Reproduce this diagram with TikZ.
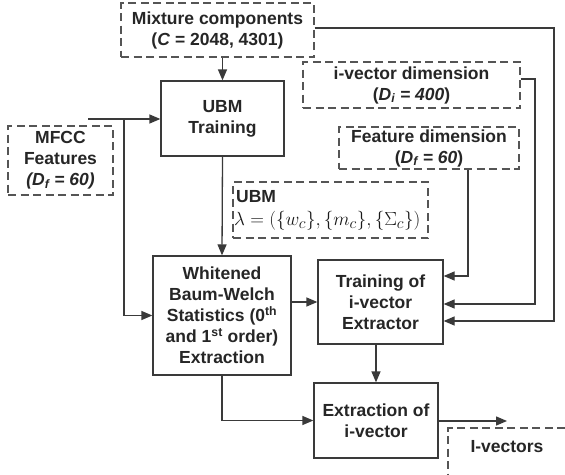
\documentclass[tikz,border=0pt]{standalone}
\usepackage{graphicx}
\usepackage{fontspec}
\setmainfont{Liberation Sans}
\usetikzlibrary{arrows.meta,calc}
\definecolor{ln}{HTML}{3A3A3A}
\definecolor{dl}{HTML}{555555}
\begin{document}
\begin{tikzpicture}[x=1pt,y=-1pt,
  every node/.style={font=\fontsize{17.5}{21}\selectfont\bfseries, text=black!85, inner sep=0pt},
  solidbox/.style={draw=ln, line width=1.3pt, align=center},
  dashbox/.style={draw=dl, line width=1.3pt, dash pattern=on 8pt off 4.5pt, align=center},
  arr/.style={draw=ln, line width=1.3pt, -{Triangle[length=11pt,width=9pt]}},
  ln/.style={draw=ln, line width=1.3pt}]
\useasboundingbox (0,0) rectangle (565,474);
\fill[white] (0,0) rectangle (565,474);
% boxes
\node[dashbox, minimum width=193pt, minimum height=54pt] (mix) at (217.5,30) {Mixture components\\(\textit{C} = 2048, 4301)};
\node[solidbox, minimum width=123pt, minimum height=75pt] (ubm) at (222.5,118.5) {UBM\\Training};
\node[dashbox, minimum width=105pt, minimum height=69pt] (mfcc) at (60.5,160.5) {MFCC\\Features\\\textit{(D\textsubscript{f} = 60)}};
\node[dashbox, minimum width=217pt, minimum height=46pt] (ivd) at (411.5,85) {i-vector dimension\\(\textit{D\textsubscript{i} = 400})};
\node[dashbox, minimum width=180pt, minimum height=42pt] (fd) at (429,148) {Feature dimension\\(\textit{D\textsubscript{f} = 60})};
\node[dashbox, minimum width=195pt, minimum height=56pt] (ubl) at (330.5,210) {};
\node[anchor=west] (ublt) at (236,197) {UBM};
\node[anchor=west, font=\fontsize{19}{22}\selectfont, text=black!90] (ublf) at (234,221) {\scalebox{1.1}{$\lambda = \Bigl(\{w_c\}, \{m_c\}, \{\Sigma_c\}\Bigr)$}};
\node[solidbox, minimum width=138pt, minimum height=119pt] (wbw) at (222,315.5) {Whitened\\Baum-Welch\\Statistics (0\textsuperscript{th}\\and 1\textsuperscript{st} order)\\Extraction};
\node[solidbox, minimum width=125pt, minimum height=84pt] (tr) at (380.5,302) {Training of\\i-vector\\Extractor};
\node[solidbox, minimum width=124pt, minimum height=75pt] (ex) at (376,420.5) {Extraction of\\i-vector};
\node[dashbox, minimum width=160pt, minimum height=72pt] (iv) at (528,464) {};
\node (ivt) at (507,447) {I-vectors};
% connectors
\draw[arr] (ubm.north |- mix.south) -- (ubm.north);
\coordinate (m0) at (88,119);
\coordinate (br) at (124,119);
\draw[arr] (m0) -- (m0 -| ubm.west);
\draw[arr] (br) |- (wbw.west);
\draw[arr] (ubm.south) -- (wbw.north);
\draw[arr] (wbw.east |- tr.west) -- (tr.west);
\coordinate (f1) at (468,276);
\draw[arr] (f1 |- fd.south) -- (f1) -- (f1 -| tr.east);
\coordinate (i1) at (535,304);
\draw[arr] ([yshift=6pt]ivd.east) -| (i1) -- (i1 -| tr.east);
\coordinate (c1) at (554,321);
\draw[arr] ([yshift=2pt]mix.east) -| (c1) -- (c1 -| tr.east);
\draw[arr] (ex.north |- tr.south) -- (ex.north);
\draw[arr] (wbw.south) |- (ex.west);
\coordinate (o1) at (507,421);
\draw[arr] (ex.east |- o1) -- (o1);
\end{tikzpicture}
\end{document}
